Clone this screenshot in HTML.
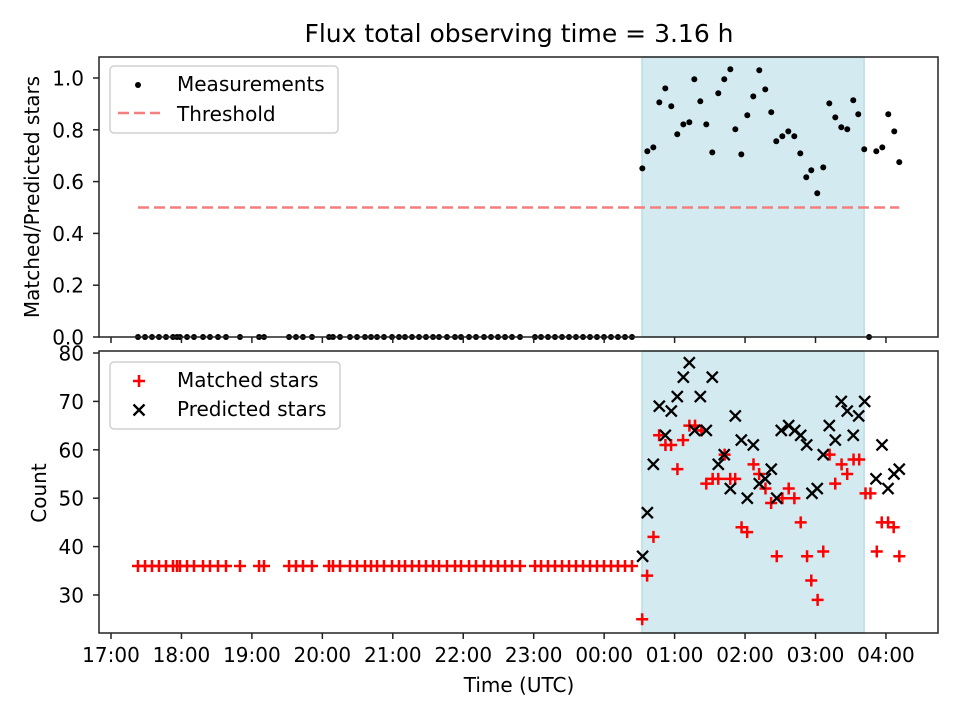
<!DOCTYPE html>
<html><head><meta charset="utf-8"><style>
body{margin:0;background:#fff}
svg text{font-family:"DejaVu Sans","Liberation Sans",sans-serif;fill:#000}
</style></head><body>
<svg id="chart" width="960" height="720" xmlns="http://www.w3.org/2000/svg">
<text x="519" y="42" font-size="25" text-anchor="middle">Flux total observing time = 3.16 h</text>
<g id="topPanel"></g><g id="botPanel"></g>
</svg>
<script>
// times in hours after 17:00
const preTimes=[0.383,0.483,0.582,0.681,0.781,0.880,0.937,0.979,1.079,1.178,1.306,1.405,1.519,1.632,1.831,2.101,2.172,2.527,2.626,2.725,2.853,3.094,3.151,3.251,3.392,3.492,3.605,3.691,3.776,3.875,3.989,4.088,4.173,4.273,4.372,4.471,4.571,4.656,4.769,4.883,4.968,5.082,5.181,5.295,5.394,5.493,5.593,5.692,5.806,6.018,6.104,6.203,6.302,6.402,6.501,6.600,6.700,6.799,6.898,6.998,7.097,7.196,7.296,7.395];
const preRatio=[0,0,0,0,0,0,0,0,0,0,0,0,0,0,0,0,0,0,0,0,0,0,0,0,0,0,0,0,0,0,0,0,0,0,0,0,0,0,0,0,0,0,0,0,0,0,0,0,0,0,0,0,0,0,0,0,0,0,0,0,0,0,0,0];
const preCount=[36,36,36,36,36,36,36,36,36,36,36,36,36,36,36,36,36,36,36,36,36,36,36,36,36,36,36,36,36,36,36,36,36,36,36,36,36,36,36,36,36,36,36,36,36,36,36,36,36,36,36,36,36,36,36,36,36,36,36,36,36,36,36,36];
const ratioTimes=[7.542,7.613,7.698,7.783,7.868,7.953,8.038,8.124,8.209,8.280,8.365,8.450,8.535,8.620,8.705,8.791,8.862,8.947,9.032,9.117,9.202,9.287,9.372,9.443,9.529,9.614,9.699,9.784,9.869,9.940,10.025,10.110,10.196,10.281,10.366,10.451,10.536,10.607,10.692,10.76,10.863,10.948,11.033,11.118,11.189];
const ratioVals=[0.651,0.717,0.732,0.906,0.960,0.891,0.783,0.821,0.829,0.995,0.910,0.821,0.713,0.941,0.995,1.034,0.802,0.705,0.856,0.929,1.030,0.956,0.868,0.756,0.775,0.794,0.775,0.709,0.617,0.644,0.555,0.655,0.902,0.848,0.810,0.802,0.914,0.860,0.725,0,0.717,0.732,0.860,0.794,0.675];
const matchedTimes=[7.54,7.61,7.70,7.78,7.87,7.95,8.04,8.12,8.21,8.29,8.38,8.45,8.54,8.62,8.71,8.79,8.86,8.95,9.03,9.12,9.20,9.29,9.37,9.45,9.53,9.62,9.70,9.79,9.88,9.94,10.03,10.11,10.20,10.28,10.37,10.45,10.54,10.62,10.71,10.78,10.87,10.94,11.03,11.11,11.19];
const matchedVals=[25,34,42,63,61,61,56,62,65,65,64,53,54,54,59,54,54,44,43,57,55,52,49,38,50,52,50,45,38,33,29,39,59,53,57,55,58,58,51,51,39,45,45,44,38];
const predTimes=[7.546,7.613,7.698,7.783,7.868,7.953,8.038,8.124,8.209,8.285,8.365,8.450,8.535,8.620,8.705,8.791,8.862,8.947,9.032,9.117,9.202,9.287,9.372,9.449,9.514,9.619,9.705,9.790,9.875,9.950,10.025,10.110,10.196,10.281,10.366,10.451,10.536,10.613,10.698,10.859,10.944,11.029,11.114,11.189];
const predVals=[38,47,57,69,63,68,71,75,78,64,71,64,75,57,59,52,67,62,50,61,53,54,56,50,64,65,64,63,61,51,52,59,65,62,70,68,63,67,70,54,61,52,55,56];
const xTickLabels=["17:00","18:00","19:00","20:00","21:00","22:00","23:00","00:00","01:00","02:00","03:00","04:00"];
const topTicks=["0.0","0.2","0.4","0.6","0.8","1.0"];
const botTicks=["30","40","50","60","70","80"];
const threshold=0.5, shadeStart=7.537, shadeEnd=10.69;

const NS="http://www.w3.org/2000/svg";
const X0=99,X1=938;
const xs=h=>111+h*70.45;
const yTop=v=>337-v*259;
const yBot=v=>595-(v-30)*4.84;
function mk(p,tag,a){const e=document.createElementNS(NS,tag);for(const k in a)e.setAttribute(k,a[k]);p.appendChild(e);return e;}
const gTop=document.getElementById('topPanel'),gBot=document.getElementById('botPanel');

function shade(g,y0,y1,name){
  const s=mk(g,'rect',{x:xs(shadeStart),y:y0,width:xs(shadeEnd)-xs(shadeStart),height:y1-y0,fill:'#d4eaf1',stroke:'#bcdde6','stroke-width':1.5});
  
  
}
function frame(g,y0,y1,name){
  const f=mk(g,'rect',{x:X0,y:y0,width:X1-X0,height:y1-y0,fill:'none',stroke:'#222','stroke-width':1.5});
  
  
  xTickLabels.forEach((t,i)=>{
    const x=xs(i);
    mk(g,'line',{x1:x,x2:x,y1:y1,y2:y1+6,stroke:'#222','stroke-width':1.5});
    if(name==='bottom'){
      const tx=mk(g,'text',{x:x,y:662,'font-size':20,'text-anchor':'middle'});tx.textContent=t;
      
      
    }
  });
}
// top panel
shade(gTop,57,337,'top');
const th=mk(gTop,'line',{x1:xs(preTimes[0]),x2:xs(11.189),y1:yTop(threshold),y2:yTop(threshold),stroke:'#f47f7f','stroke-width':2.5,'stroke-dasharray':'11,5'});


function dot(t,v){const c=mk(gTop,'circle',{cx:xs(t),cy:yTop(v),r:3,fill:'#000'});
  
  }
preTimes.forEach((t,i)=>dot(t,preRatio[i]));
ratioTimes.forEach((t,i)=>dot(t,ratioVals[i]));
frame(gTop,57,337,'top');
topTicks.forEach(t=>{const y=yTop(+t);mk(gTop,'line',{x1:X0-6,x2:X0,y1:y,y2:y,stroke:'#222','stroke-width':1.5});
  const tx=mk(gTop,'text',{x:84,y:y+7.5,'font-size':20,'text-anchor':'end'});tx.textContent=t;
  
  });
// bottom panel
shade(gBot,351,633,'bottom');
function plus(t,v){const x=xs(t),y=yBot(v);const p=mk(gBot,'path',{d:`M${x-6},${y}H${x+6}M${x},${y-6}V${y+6}`,stroke:'#ff0000','stroke-width':2.5});
  
  }
function cross(t,v){const x=xs(t),y=yBot(v);const p=mk(gBot,'path',{d:`M${x-5.5},${y-5.5}L${x+5.5},${y+5.5}M${x-5.5},${y+5.5}L${x+5.5},${y-5.5}`,stroke:'#000','stroke-width':2.3});
  
  }
preTimes.forEach((t,i)=>plus(t,preCount[i]));
matchedTimes.forEach((t,i)=>plus(t,matchedVals[i]));
predTimes.forEach((t,i)=>cross(t,predVals[i]));
frame(gBot,351,633,'bottom');
botTicks.forEach(t=>{const y=yBot(+t);mk(gBot,'line',{x1:X0-6,x2:X0,y1:y,y2:y,stroke:'#222','stroke-width':1.5});
  const tx=mk(gBot,'text',{x:84,y:y+7.5,'font-size':20,'text-anchor':'end'});tx.textContent=t;
  
  });
</script>
<svg style="position:absolute;left:0;top:0" width="960" height="720">
<text transform="translate(39,197) rotate(-90)" font-size="20" text-anchor="middle">Matched/Predicted stars</text>
<text transform="translate(46,493) rotate(-90)" font-size="20" text-anchor="middle">Count</text>
<text x="519" y="692" font-size="20" text-anchor="middle">Time (UTC)</text>
<g>
<rect x="110" y="66" width="228" height="67" rx="4" fill="#fff" fill-opacity="0.8" stroke="#d0d0d0" stroke-width="1.5"/>
<circle cx="138" cy="85" r="3" fill="#000"/>
<text x="177" y="91" font-size="20">Measurements</text>
<line x1="118" x2="160" y1="113" y2="113" stroke="#f47f7f" stroke-width="2.5" stroke-dasharray="11,5"/>
<text x="177" y="121" font-size="20">Threshold</text>
</g>
<g>
<rect x="110" y="362" width="230" height="67" rx="4" fill="#fff" fill-opacity="0.8" stroke="#d0d0d0" stroke-width="1.5"/>
<path d="M133,381H145M139,375V387" stroke="#f00" stroke-width="2.5"/>
<text x="177" y="387" font-size="20">Matched stars</text>
<path d="M133.5,404.5L144.5,415.5M133.5,415.5L144.5,404.5" stroke="#000" stroke-width="2.3"/>
<text x="177" y="416" font-size="20">Predicted stars</text>
</g>
</svg>
</body></html>
